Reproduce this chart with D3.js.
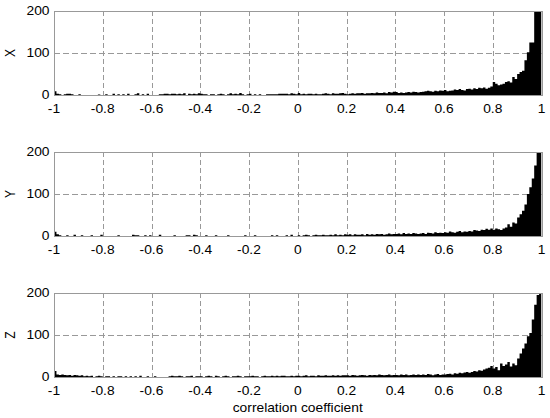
<!DOCTYPE html>
<html>
<head>
<meta charset="utf-8">
<script src="https://cdn.jsdelivr.net/npm/d3@7"></script>
<style>
    body { margin: 0; background: #fff; }
    text { font-family: "Liberation Sans", Arial, sans-serif; font-size: 12px; fill: #000; }
</style>
</head>
<body>
<div id="chart"></div>
<script>
// histogram counts, 200 bins of 0.01 from -1 to 1
var countsX = [
    9, 3, 2, 0, 2, 3, 3, 2, 0, 0,
    2, 0, 0, 0, 0, 0, 0, 0, 1, 0,
    0, 2, 0, 0, 3, 0, 2, 0, 2, 0,
    3, 0, 0, 2, 4, 0, 2, 0, 3, 0,
    0, 0, 0, 2, 2, 3, 3, 2, 3, 3,
    2, 3, 2, 4, 0, 3, 2, 3, 2, 4,
    3, 2, 2, 0, 2, 2, 0, 2, 3, 2,
    0, 2, 4, 2, 3, 2, 5, 2, 0, 2,
    3, 0, 2, 0, 2, 0, 0, 2, 2, 2,
    2, 2, 3, 3, 3, 3, 2, 4, 3, 2,
    5, 2, 3, 2, 3, 3, 2, 3, 2, 2,
    3, 4, 3, 2, 4, 3, 3, 4, 5, 3,
    2, 3, 4, 3, 4, 4, 5, 3, 4, 4,
    5, 4, 6, 5, 5, 6, 4, 7, 6, 8,
    7, 5, 6, 5, 6, 7, 6, 8, 7, 6,
    7, 8, 9, 10, 9, 8, 10, 9, 11, 10,
    12, 9, 10, 11, 13, 12, 14, 12, 11, 14,
    15, 13, 16, 14, 17, 16, 18, 15, 17, 20,
    31, 27, 23, 25, 27, 31, 33, 30, 43, 38,
    50, 55, 58, 83, 102, 125, 125, 210, 220, 240
];
var countsY = [
    10, 4, 2, 0, 0, 2, 0, 0, 3, 0,
    0, 2, 0, 0, 0, 2, 0, 0, 0, 3,
    0, 0, 0, 0, 0, 0, 2, 0, 0, 0,
    0, 0, 3, 2, 2, 0, 0, 2, 0, 2,
    0, 0, 0, 3, 0, 0, 0, 0, 0, 2,
    0, 0, 0, 0, 2, 2, 0, 3, 2, 0,
    0, 0, 2, 0, 0, 0, 2, 0, 0, 0,
    0, 2, 0, 0, 0, 0, 0, 0, 2, 0,
    0, 0, 2, 0, 0, 0, 0, 0, 0, 2,
    0, 2, 0, 0, 0, 2, 0, 3, 0, 0,
    2, 0, 2, 3, 2, 0, 2, 3, 2, 2,
    3, 2, 2, 3, 2, 4, 2, 3, 2, 4,
    3, 4, 2, 4, 3, 3, 4, 2, 5, 3,
    4, 3, 5, 4, 5, 3, 4, 6, 4, 5,
    5, 6, 4, 7, 5, 6, 5, 7, 6, 5,
    6, 7, 5, 8, 7, 6, 9, 7, 8, 7,
    9, 8, 11, 9, 8, 10, 12, 9, 11, 10,
    12, 11, 14, 13, 12, 15, 14, 17, 15, 18,
    15, 18, 16, 14, 18, 20, 28, 22, 32, 30,
    44, 52, 60, 75, 100, 116, 137, 168, 225, 240
];
var countsZ = [
    14, 6, 5, 6, 5, 4, 5, 3, 5, 4,
    3, 4, 2, 3, 2, 3, 0, 2, 3, 2,
    0, 2, 2, 0, 2, 0, 2, 2, 0, 2,
    0, 2, 0, 2, 0, 3, 0, 0, 2, 0,
    0, 2, 0, 0, 0, 0, 0, 2, 3, 2,
    2, 3, 2, 0, 2, 2, 3, 0, 2, 2,
    2, 0, 2, 3, 2, 0, 3, 2, 0, 2,
    3, 2, 0, 2, 2, 3, 2, 0, 2, 2,
    2, 3, 2, 2, 0, 2, 3, 2, 2, 3,
    2, 3, 2, 3, 3, 2, 2, 3, 2, 3,
    3, 2, 3, 4, 2, 3, 3, 2, 4, 3,
    3, 4, 3, 3, 4, 3, 4, 3, 4, 4,
    4, 3, 5, 4, 3, 4, 5, 4, 3, 5,
    4, 5, 4, 6, 5, 4, 5, 6, 4, 5,
    5, 4, 6, 5, 6, 4, 5, 6, 5, 6,
    5, 6, 5, 7, 6, 4, 6, 7, 5, 6,
    6, 7, 8, 6, 9, 8, 10, 9, 11, 12,
    10, 12, 14, 13, 16, 15, 18, 20, 22, 26,
    20, 24, 16, 32, 26, 30, 36, 25, 32, 28,
    44, 56, 68, 80, 97, 105, 137, 172, 195, 240
];
var panelNames = ["X", "Y", "Z"];
var xTicks = [-1, -0.8, -0.6, -0.4, -0.2, 0, 0.2, 0.4, 0.6, 0.8, 1];
var yTicks = [0, 100, 200];
var binStart = -1;
var binWidth = 0.01;

document.addEventListener("DOMContentLoaded", () => {
    var width = 550;
    var height = 418;
    var panelTops = [11, 152, 293];
    var panelH = 84;
    var stretch = 1.15; // the original text is a bit wider than plain Arial

    var svg = d3.select("#chart")
        .append("svg")
        .attr("width", width)
        .attr("height", height);

    var x = d3.scaleLinear().domain([-1, 1]).range([54, 541.5]);
    var allCounts = [countsX, countsY, countsZ];

    allCounts.forEach((counts, k) => {
        var top = panelTops[k];
        var y = d3.scaleLinear().domain([0, 200]).range([top + panelH, top]);

        var g = svg.append("g");

        g.append("clipPath")
            .attr("id", "clip" + k)
            .append("rect")
            .attr("x", x(-1))
            .attr("y", top)
            .attr("width", x(1) - x(-1))
            .attr("height", panelH);

        // grid
        g.append("g")
            .selectAll("line")
            .data(xTicks.filter(t => t > -1 && t < 1))
            .join("line")
            .attr("x1", d => Math.round(x(d)) + 0.5)
            .attr("x2", d => Math.round(x(d)) + 0.5)
            .attr("y1", top)
            .attr("y2", top + panelH)
            .attr("stroke", "#999")
            .attr("stroke-dasharray", "5,3");

        g.append("line")
            .attr("x1", x(-1))
            .attr("x2", x(1))
            .attr("y1", Math.round(y(100)) + 0.5)
            .attr("y2", Math.round(y(100)) + 0.5)
            .attr("stroke", "#999")
            .attr("stroke-dasharray", "6,3");

        // bars as one stepped area so neighbouring bins have no seams
        var steps = counts.map((c, i) => ({ x0: binStart + i * binWidth, c: c }));
        steps.push({ x0: binStart + counts.length * binWidth, c: counts[counts.length - 1] });

        var area = d3.area()
            .curve(d3.curveStepAfter)
            .x(d => x(d.x0))
            .y0(y(0))
            .y1(d => y(d.c));

        g.append("path")
            .attr("clip-path", "url(#clip" + k + ")")
            .attr("d", area(steps))
            .attr("fill", "#000");

        // frame
        g.append("rect")
            .attr("x", Math.round(x(-1)) + 0.5)
            .attr("y", top + 0.5)
            .attr("width", Math.round(x(1) - x(-1)))
            .attr("height", panelH)
            .attr("fill", "none")
            .attr("stroke", "#999");

        // tick labels
        g.selectAll(".xl")
            .data(xTicks)
            .join("text")
            .attr("class", "xl")
            .attr("text-anchor", "middle")
            .attr("transform", d => `translate(${x(d)},${top + panelH + 17.5}) scale(${stretch},1)`)
            .text(d => String(d));

        g.selectAll(".yl")
            .data(yTicks)
            .join("text")
            .attr("class", "yl")
            .attr("text-anchor", "end")
            .attr("transform", d => `translate(49.5,${y(d) + 4.3}) scale(${stretch},1)`)
            .text(d => d);

        g.append("text")
            .attr("text-anchor", "middle")
            .attr("transform", `translate(14.5,${top + panelH / 2}) scale(${stretch},1) rotate(-90)`)
            .text(panelNames[k]);
    });

    svg.append("text")
        .attr("text-anchor", "middle")
        .attr("transform", `translate(${(x(-1) + x(1)) / 2},412) scale(${stretch},1)`)
        .text("correlation coefficient");
});
</script>
</body>
</html>
